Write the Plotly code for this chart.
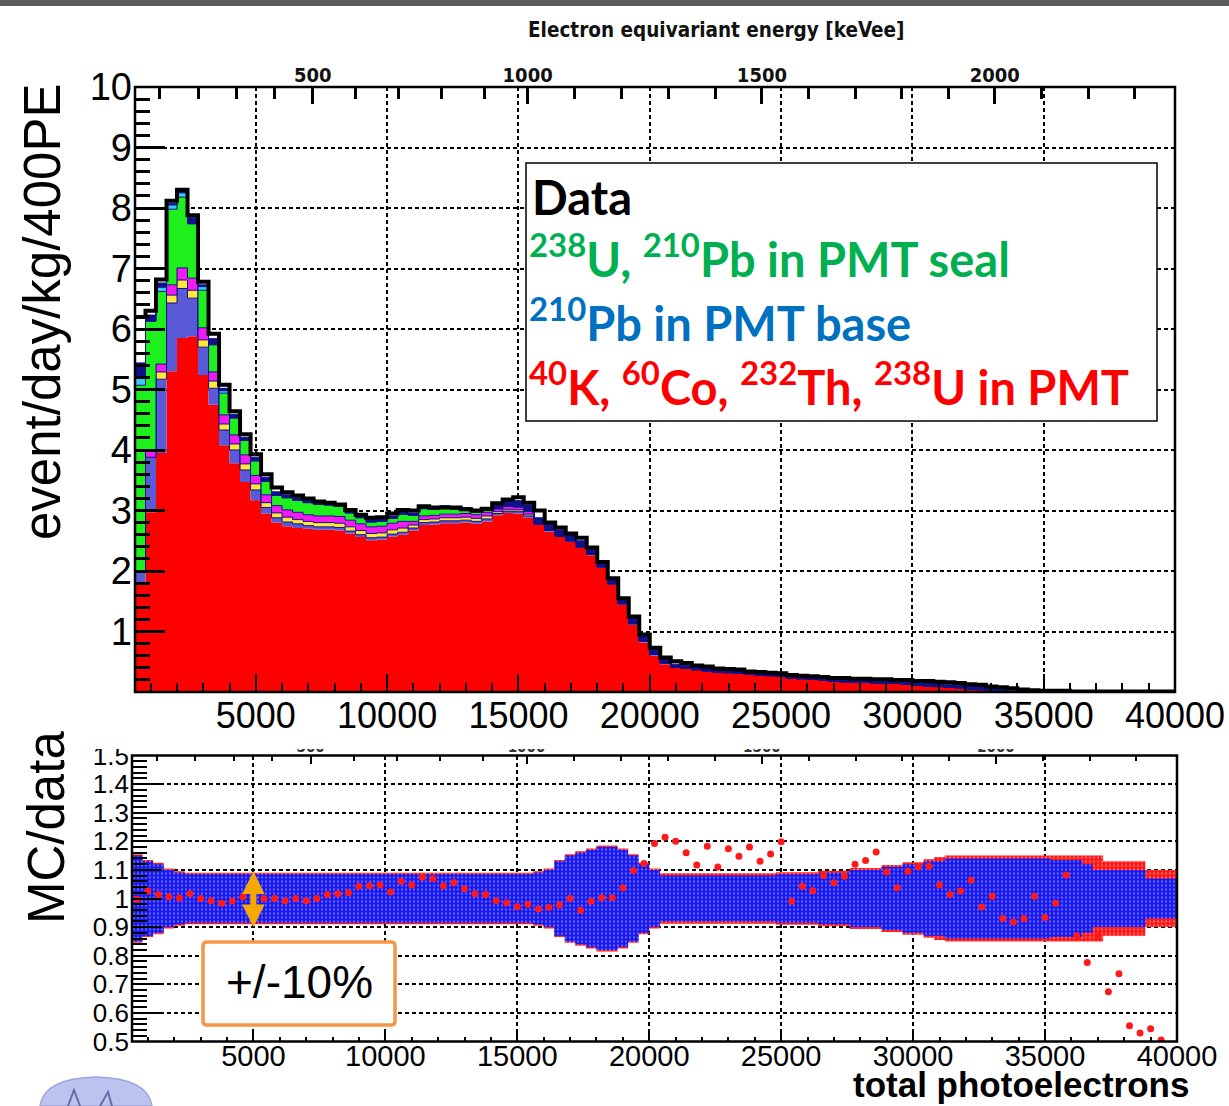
import numpy as np
import plotly.graph_objects as go

W, H = 1229, 1106

# ---------------------------------------------------------------------------
# Spectrum: 400-PE bins between 400 and 40000 photoelectrons
# ---------------------------------------------------------------------------
pe_edges = np.arange(400, 40001, 400)
pe_centers = pe_edges[:-1] + 200

# measured rate [event/day/kg/400PE]
data_rate = [
    6.20, 6.30, 6.82, 8.12, 8.30, 7.88, 6.78, 5.92, 5.08, 4.64,
    4.26, 3.93, 3.60, 3.38, 3.30, 3.25, 3.20, 3.15, 3.13, 3.10,
    3.01, 2.93, 2.88, 2.89, 2.95, 3.01, 3.00, 3.07, 3.05, 3.05,
    3.05, 3.02, 3.00, 3.03, 3.12, 3.18, 3.22, 3.13, 3.00, 2.80,
    2.72, 2.62, 2.55, 2.39, 2.15, 1.88, 1.55, 1.25, 0.95, 0.73,
    0.57, 0.51, 0.48, 0.44, 0.42, 0.39, 0.38, 0.37, 0.34, 0.33,
    0.32, 0.31, 0.28, 0.27, 0.26, 0.25, 0.23, 0.23, 0.22, 0.22,
    0.21, 0.21, 0.20, 0.20, 0.18, 0.18, 0.17, 0.16, 0.15, 0.13,
    0.12, 0.09, 0.08, 0.06, 0.04, 0.03, 0.02, 0.02, 0.02, 0.01,
    0.01, 0.01, 0.01, 0.01, 0.01, 0.01, 0.01, 0.01, 0.01,
]

# simulated components, stacked bottom to top
pmt_rate = [  # 40K, 60Co, 232Th, 238U in PMT
    1.80, 2.97, 3.95, 5.30, 5.85, 5.88, 5.24, 4.75, 4.08, 3.78,
    3.47, 3.17, 2.95, 2.80, 2.74, 2.71, 2.70, 2.68, 2.68, 2.67,
    2.62, 2.56, 2.51, 2.52, 2.57, 2.60, 2.67, 2.76, 2.77, 2.79,
    2.79, 2.80, 2.78, 2.82, 2.92, 2.96, 2.95, 2.88, 2.76, 2.65,
    2.56, 2.48, 2.38, 2.26, 2.05, 1.77, 1.44, 1.11, 0.82, 0.60,
    0.46, 0.41, 0.39, 0.37, 0.35, 0.33, 0.32, 0.31, 0.29, 0.28,
    0.27, 0.26, 0.23, 0.22, 0.21, 0.20, 0.18, 0.17, 0.16, 0.16,
    0.15, 0.15, 0.14, 0.13, 0.11, 0.10, 0.09, 0.08, 0.07, 0.05,
    0.04, 0.02, 0.01, 0.00, 0.00, 0.00, 0.00, 0.00, 0.00, 0.00,
    0.00, 0.00, 0.00, 0.00, 0.00, 0.00, 0.00, 0.00, 0.00,
]
base_pb210_rate = [  # 210Pb in PMT base
    0.20, 0.91, 1.22, 1.13, 0.82, 0.63, 0.46, 0.27, 0.25, 0.22,
    0.20, 0.17, 0.10, 0.08, 0.07, 0.07, 0.05, 0.05, 0.05, 0.05,
    0.04, 0.04, 0.04, 0.04, 0.04, 0.04, 0.04, 0.04, 0.04, 0.04,
    0.04, 0.04, 0.04, 0.04, 0.03, 0.03, 0.03, 0.03, 0.02, 0.02,
    0.02, 0.02, 0.02, 0.02, 0.02, 0.02, 0.02, 0.02, 0.02, 0.02,
    0.02, 0.00, 0.00, 0.00, 0.00, 0.00, 0.00, 0.00, 0.00, 0.00,
    0.00, 0.00, 0.00, 0.00, 0.00, 0.00, 0.00, 0.00, 0.00, 0.00,
    0.00, 0.00, 0.00, 0.00, 0.00, 0.00, 0.00, 0.00, 0.00, 0.00,
    0.00, 0.00, 0.00, 0.00, 0.00, 0.00, 0.00, 0.00, 0.00, 0.00,
    0.00, 0.00, 0.00, 0.00, 0.00, 0.00, 0.00, 0.00, 0.00,
]
vessel_rate = [  # yellow layer
    0.00, 0.00, 0.12, 0.13, 0.14, 0.13, 0.12, 0.12, 0.10, 0.10,
    0.10, 0.10, 0.08, 0.08, 0.08, 0.07, 0.07, 0.07, 0.07, 0.07,
    0.07, 0.07, 0.07, 0.07, 0.07, 0.07, 0.05, 0.05, 0.05, 0.05,
    0.05, 0.05, 0.05, 0.05, 0.03, 0.03, 0.03, 0.03, 0.00, 0.00,
    0.00, 0.00, 0.00, 0.00, 0.00, 0.00, 0.00, 0.00, 0.00, 0.00,
    0.00, 0.00, 0.00, 0.00, 0.00, 0.00, 0.00, 0.00, 0.00, 0.00,
    0.00, 0.00, 0.00, 0.00, 0.00, 0.00, 0.00, 0.00, 0.00, 0.00,
    0.00, 0.00, 0.00, 0.00, 0.00, 0.00, 0.00, 0.00, 0.00, 0.00,
    0.00, 0.00, 0.00, 0.00, 0.00, 0.00, 0.00, 0.00, 0.00, 0.00,
    0.00, 0.00, 0.00, 0.00, 0.00, 0.00, 0.00, 0.00, 0.00,
]
holder_rate = [  # magenta layer
    0.00, 0.10, 0.13, 0.17, 0.20, 0.20, 0.20, 0.15, 0.15, 0.15,
    0.15, 0.14, 0.13, 0.12, 0.12, 0.12, 0.11, 0.11, 0.11, 0.11,
    0.11, 0.11, 0.11, 0.11, 0.11, 0.11, 0.06, 0.06, 0.06, 0.06,
    0.06, 0.06, 0.06, 0.06, 0.05, 0.05, 0.05, 0.05, 0.00, 0.00,
    0.00, 0.00, 0.00, 0.00, 0.00, 0.00, 0.00, 0.00, 0.00, 0.00,
    0.00, 0.00, 0.00, 0.00, 0.00, 0.00, 0.00, 0.00, 0.00, 0.00,
    0.00, 0.00, 0.00, 0.00, 0.00, 0.00, 0.00, 0.00, 0.00, 0.00,
    0.00, 0.00, 0.00, 0.00, 0.00, 0.00, 0.00, 0.00, 0.00, 0.00,
    0.00, 0.00, 0.00, 0.00, 0.00, 0.00, 0.00, 0.00, 0.00, 0.00,
    0.00, 0.00, 0.00, 0.00, 0.00, 0.00, 0.00, 0.00, 0.00,
]
seal_rate = [  # 238U, 210Pb in PMT seal
    3.07, 2.15, 1.20, 1.25, 1.17, 0.90, 0.62, 0.45, 0.36, 0.28,
    0.24, 0.24, 0.22, 0.17, 0.20, 0.20, 0.20, 0.19, 0.18, 0.17,
    0.12, 0.10, 0.08, 0.08, 0.08, 0.12, 0.10, 0.12, 0.10, 0.10,
    0.08, 0.06, 0.04, 0.03, 0.00, 0.00, 0.00, 0.00, 0.00, 0.00,
    0.00, 0.00, 0.00, 0.00, 0.00, 0.00, 0.00, 0.00, 0.00, 0.00,
    0.00, 0.00, 0.00, 0.00, 0.00, 0.00, 0.00, 0.00, 0.00, 0.00,
    0.00, 0.00, 0.00, 0.00, 0.00, 0.00, 0.00, 0.00, 0.00, 0.00,
    0.00, 0.00, 0.00, 0.00, 0.00, 0.00, 0.00, 0.00, 0.00, 0.00,
    0.00, 0.00, 0.00, 0.00, 0.00, 0.00, 0.00, 0.00, 0.00, 0.00,
    0.00, 0.00, 0.00, 0.00, 0.00, 0.00, 0.00, 0.00, 0.00,
]
window_rate = [  # cyan layer
    0.12, 0.00, 0.07, 0.07, 0.07, 0.00, 0.06, 0.00, 0.04, 0.00,
    0.00, 0.00, 0.00, 0.00, 0.00, 0.00, 0.00, 0.00, 0.00, 0.00,
    0.00, 0.00, 0.00, 0.00, 0.00, 0.00, 0.00, 0.00, 0.00, 0.00,
    0.00, 0.00, 0.00, 0.00, 0.00, 0.00, 0.00, 0.00, 0.00, 0.00,
    0.00, 0.00, 0.00, 0.00, 0.00, 0.00, 0.00, 0.00, 0.00, 0.00,
    0.00, 0.00, 0.00, 0.00, 0.00, 0.00, 0.00, 0.00, 0.00, 0.00,
    0.00, 0.00, 0.00, 0.00, 0.00, 0.00, 0.00, 0.00, 0.00, 0.00,
    0.00, 0.00, 0.00, 0.00, 0.00, 0.00, 0.00, 0.00, 0.00, 0.00,
    0.00, 0.00, 0.00, 0.00, 0.00, 0.00, 0.00, 0.00, 0.00, 0.00,
    0.00, 0.00, 0.00, 0.00, 0.00, 0.00, 0.00, 0.00, 0.00,
]
other_rate = [  # navy layer
    0.25, 0.10, 0.07, 0.03, 0.03, 0.10, 0.03, 0.10, 0.04, 0.06,
    0.05, 0.06, 0.07, 0.06, 0.05, 0.05, 0.04, 0.04, 0.04, 0.04,
    0.04, 0.04, 0.04, 0.04, 0.04, 0.04, 0.04, 0.04, 0.04, 0.04,
    0.04, 0.04, 0.04, 0.04, 0.10, 0.10, 0.10, 0.10, 0.10, 0.10,
    0.10, 0.10, 0.10, 0.10, 0.10, 0.10, 0.10, 0.10, 0.10, 0.10,
    0.10, 0.05, 0.05, 0.05, 0.05, 0.05, 0.05, 0.05, 0.05, 0.05,
    0.05, 0.05, 0.05, 0.05, 0.05, 0.05, 0.05, 0.05, 0.05, 0.05,
    0.05, 0.05, 0.05, 0.05, 0.05, 0.05, 0.05, 0.05, 0.05, 0.05,
    0.05, 0.05, 0.05, 0.02, 0.02, 0.02, 0.02, 0.02, 0.02, 0.01,
    0.01, 0.01, 0.01, 0.01, 0.01, 0.01, 0.01, 0.01, 0.01,
]

# MC / data ratio per bin and error-band half widths
mc_data_ratio = [
    0.997, 1.026, 1.014, 1.006, 1.002, 1.017, 1.000, 0.992, 0.983, 0.991,
    1.006, 0.998, 1.000, 1.000, 0.992, 1.000, 0.992, 1.000, 1.014, 1.017,
    1.020, 1.043, 1.045, 1.047, 1.023, 1.060, 1.047, 1.074, 1.069, 1.045,
    1.056, 1.034, 1.017, 1.014, 0.992, 0.985, 0.971, 0.980, 0.963, 0.969,
    0.977, 1.000, 0.959, 0.990, 1.003, 1.003, 1.038, 1.098, 1.122, 1.192,
    1.214, 1.200, 1.160, 1.117, 1.183, 1.110, 1.174, 1.148, 1.180, 1.130,
    1.156, 1.198, 0.990, 1.043, 1.027, 1.080, 1.055, 1.078, 1.120, 1.133,
    1.163, 1.093, 1.038, 1.095, 1.110, 1.113, 1.047, 1.014, 1.026, 1.064,
    0.970, 1.008, 0.930, 0.918, 0.930, 1.008, 0.934, 0.983, 1.082, 0.870,
    0.776, 0.870, 0.674, 0.737, 0.555, 0.530, 0.545, 0.505, None,
]
mc_err_blue = [
    0.150, 0.130, 0.120, 0.100, 0.090, 0.085, 0.085, 0.085, 0.085, 0.085,
    0.085, 0.085, 0.085, 0.085, 0.085, 0.085, 0.085, 0.085, 0.085, 0.085,
    0.085, 0.085, 0.085, 0.085, 0.085, 0.085, 0.085, 0.085, 0.085, 0.085,
    0.085, 0.085, 0.085, 0.085, 0.085, 0.085, 0.085, 0.085, 0.090, 0.100,
    0.130, 0.150, 0.160, 0.170, 0.180, 0.180, 0.170, 0.150, 0.120, 0.100,
    0.080, 0.080, 0.080, 0.080, 0.080, 0.080, 0.080, 0.080, 0.080, 0.080,
    0.080, 0.085, 0.085, 0.085, 0.085, 0.090, 0.090, 0.090, 0.100, 0.100,
    0.100, 0.110, 0.110, 0.120, 0.120, 0.130, 0.130, 0.140, 0.140, 0.140,
    0.140, 0.140, 0.140, 0.140, 0.140, 0.140, 0.140, 0.135, 0.135, 0.135,
    0.120, 0.100, 0.100, 0.100, 0.100, 0.100, 0.070, 0.070, 0.070,
]
mc_err_red = [
    0.155, 0.135, 0.125, 0.105, 0.095, 0.090, 0.090, 0.090, 0.090, 0.090,
    0.090, 0.090, 0.090, 0.090, 0.090, 0.090, 0.090, 0.090, 0.090, 0.090,
    0.090, 0.090, 0.090, 0.090, 0.090, 0.090, 0.090, 0.090, 0.090, 0.090,
    0.090, 0.090, 0.090, 0.090, 0.090, 0.090, 0.090, 0.090, 0.095, 0.105,
    0.135, 0.155, 0.165, 0.175, 0.185, 0.185, 0.175, 0.155, 0.125, 0.105,
    0.088, 0.088, 0.088, 0.088, 0.088, 0.088, 0.088, 0.088, 0.088, 0.088,
    0.088, 0.092, 0.092, 0.092, 0.092, 0.097, 0.097, 0.097, 0.107, 0.107,
    0.107, 0.117, 0.117, 0.127, 0.127, 0.137, 0.145, 0.150, 0.150, 0.150,
    0.150, 0.150, 0.150, 0.150, 0.150, 0.150, 0.150, 0.150, 0.150, 0.150,
    0.150, 0.150, 0.130, 0.130, 0.130, 0.130, 0.100, 0.100, 0.100,
]

# Axis tick labels
pe_ticks = [5000, 10000, 15000, 20000, 25000, 30000, 35000, 40000]
rate_ticks = [1, 2, 3, 4, 5, 6, 7, 8, 9, 10]
ratio_ticks = [0.5, 0.6, 0.7, 0.8, 0.9, 1.0, 1.1, 1.2, 1.3, 1.4, 1.5]
ratio_labels = ["0.5", "0.6", "0.7", "0.8", "0.9", "1", "1.1", "1.2", "1.3", "1.4", "1.5"]

# Energy calibration (keVee -> total photoelectrons) for the upper axis
cal_kev = [100, 500, 1000, 1500, 2000]
cal_pe = [1350, 7170, 15350, 24270, 33140]
energy_labels = [500, 1000, 1500, 2000]


def kev_to_pe(e):
    e = np.asarray(e, dtype=float)
    pe = np.interp(e, cal_kev, cal_pe)
    hi_slope = (cal_pe[-1] - cal_pe[-2]) / (cal_kev[-1] - cal_kev[-2])
    return np.where(e > cal_kev[-1], cal_pe[-1] + (e - cal_kev[-1]) * hi_slope, pe)


energy_major_pe = [float(v) for v in kev_to_pe(energy_labels)]
minor_kev = np.arange(100, 2400, 100)
energy_minor_pe = [float(p) for k, p in zip(minor_kev, kev_to_pe(minor_kev))
                   if k % 500 and 400 < p < 40000]


def step(vals):
    v = [np.nan if x is None else x for x in vals]
    return list(v) + [v[-1]]


def px(x):
    return x / W


def py(y):
    return 1 - y / H


FONT = "Liberation Sans, Arial, sans-serif"
NARROW = "Liberation Sans Narrow, Arial Narrow, DejaVu Sans Condensed, sans-serif"
LEG_FONT = "Lato, Open Sans, sans-serif"

fig = go.Figure()

# ---------------- upper panel: stacked MC + data ----------------
layers = [
    (pmt_rate, "#ff0000"),
    (base_pb210_rate, "#5a5ad6"),
    (vessel_rate, "#ffe838"),
    (holder_rate, "#f21cf0"),
    (seal_rate, "#1ef01e"),
    (window_rate, "#3cc8f4"),
    (other_rate, "#10108c"),
]
cum = np.zeros(len(pmt_rate))
for i, (vals, col) in enumerate(layers):
    cum = cum + np.asarray(vals)
    fig.add_trace(go.Scatter(
        x=pe_edges, y=step(list(cum)), mode="lines",
        line=dict(shape="hv", width=0 if i == 0 else 1, color="#10108c"),
        fill="tozeroy" if i == 0 else "tonexty", fillcolor=col,
        xaxis="x", yaxis="y", hoverinfo="skip", showlegend=False))

fig.add_trace(go.Scatter(
    x=pe_edges, y=step(data_rate), mode="lines",
    line=dict(shape="hv", width=4, color="black"),
    xaxis="x", yaxis="y", hoverinfo="skip", showlegend=False))

# helper traces so the energy axes are drawn
fig.add_trace(go.Scatter(x=[20000], y=[5], mode="markers", marker=dict(opacity=0),
                         xaxis="x3", yaxis="y", hoverinfo="skip", showlegend=False))
fig.add_trace(go.Scatter(x=[20000], y=[1], mode="markers", marker=dict(opacity=0),
                         xaxis="x4", yaxis="y2", hoverinfo="skip", showlegend=False))

# ---------------- lower panel: MC/data ratio ----------------
red_hw = np.asarray(mc_err_red)
blue_hw = np.asarray(mc_err_blue)
for hw, bg, fg in [(red_hw, "#ff1414", "#ffb0b0"), (blue_hw, "#1414f0", "#b4b4ff")]:
    fig.add_trace(go.Scatter(
        x=pe_edges, y=step(list(1 - hw)), mode="lines",
        line=dict(shape="hv", width=0), xaxis="x2", yaxis="y2",
        hoverinfo="skip", showlegend=False))
    fig.add_trace(go.Scatter(
        x=pe_edges, y=step(list(1 + hw)), mode="lines",
        line=dict(shape="hv", width=0), fill="tonexty", fillcolor=bg,
        fillpattern=dict(shape=".", bgcolor=bg, fgcolor=fg, size=4, solidity=0.3),
        xaxis="x2", yaxis="y2", hoverinfo="skip", showlegend=False))

fig.add_trace(go.Scatter(
    x=pe_centers, y=mc_data_ratio, mode="markers",
    marker=dict(size=7, color="#ff1a1a"),
    xaxis="x2", yaxis="y2", hoverinfo="skip", showlegend=False))

# ---------------- axes ----------------
common = dict(showline=False, zeroline=False, automargin=False)
grid = dict(showgrid=True, gridcolor="black", gridwidth=1.5, griddash="4px,3px")
top_dom_x = [px(135), px(1175)]
top_dom_y = [py(692), py(87)]
low_dom_x = [px(132), px(1177)]
low_dom_y = [py(1041.5), py(755.5)]

fig.update_layout(
    width=W, height=H, margin=dict(l=0, r=0, t=0, b=0, pad=0, autoexpand=False),
    autosize=False, paper_bgcolor="white", plot_bgcolor="white",
    showlegend=False, hovermode=False,
    xaxis=dict(domain=top_dom_x, anchor="y", range=[400, 40000],
               tickmode="array", tickvals=pe_ticks, ticktext=[str(v) for v in pe_ticks],
               ticks="inside", ticklen=18, tickwidth=2, tickcolor="black",
               minor=dict(dtick=1000, tick0=0, ticks="inside", ticklen=9, tickwidth=2,
                          tickcolor="black", showgrid=False),
               tickfont=dict(family=FONT, size=36, color="black"),
               ticklabelstandoff=-1, **common, **grid),
    yaxis=dict(domain=top_dom_y, anchor="x", range=[0, 10],
               tickmode="array", tickvals=rate_ticks, ticktext=[str(v) for v in rate_ticks],
               ticks="inside", ticklen=30, tickwidth=3, tickcolor="black",
               minor=dict(dtick=0.2, tick0=0, ticks="inside", ticklen=15, tickwidth=3,
                          tickcolor="black", showgrid=False),
               tickfont=dict(family=FONT, size=38, color="black"),
               ticklabelstandoff=2, **common, **grid),
    xaxis3=dict(overlaying="x", side="top", anchor="y", range=[400, 40000],
                tickmode="array", tickvals=energy_major_pe,
                ticktext=[str(v) for v in energy_labels],
                ticks="inside", ticklen=17, tickwidth=3, tickcolor="black",
                minor=dict(tickmode="array", tickvals=energy_minor_pe, ticks="inside",
                           ticklen=12, tickwidth=3, tickcolor="black", showgrid=False),
                tickfont=dict(family=NARROW, size=20, color="#111", weight="bold"),
                showgrid=False, **common),
    xaxis2=dict(domain=low_dom_x, anchor="y2", range=[400, 40000],
                tickmode="array", tickvals=pe_ticks, ticktext=[str(v) for v in pe_ticks],
                ticks="inside", ticklen=10, tickwidth=2, tickcolor="black",
                minor=dict(dtick=1000, tick0=0, ticks="inside", ticklen=5, tickwidth=2,
                           tickcolor="black", showgrid=False),
                tickfont=dict(family=FONT, size=29, color="black"),
                ticklabelstandoff=-6, **common, **grid),
    yaxis2=dict(domain=low_dom_y, anchor="x2", range=[0.5, 1.5],
                tickmode="array", tickvals=ratio_ticks, ticktext=ratio_labels,
                ticks="inside", ticklen=30, tickwidth=2, tickcolor="black",
                minor=dict(dtick=0.02, tick0=0.5, ticks="inside", ticklen=15, tickwidth=2,
                           tickcolor="black", showgrid=False),
                tickfont=dict(family=FONT, size=26, color="black"),
                ticklabelstandoff=2, **common, **grid),
    xaxis4=dict(overlaying="x2", side="top", anchor="y2", range=[400, 40000],
                tickmode="array", tickvals=energy_major_pe,
                ticktext=[str(v) for v in energy_labels],
                ticks="inside", ticklen=8, tickwidth=2, tickcolor="black",
                minor=dict(tickmode="array", tickvals=energy_minor_pe, ticks="inside",
                           ticklen=5, tickwidth=2, tickcolor="black", showgrid=False),
                tickfont=dict(family=NARROW, size=15, color="#333", weight="bold"),
                showgrid=False, **common),
)


def rounded_rect(x0, y0, x1, y1, r):
    def p(x, y):
        return f"{px(x):.5f},{py(y):.5f}"
    return (f"M {p(x0 + r, y0)} L {p(x1 - r, y0)} Q {p(x1, y0)} {p(x1, y0 + r)} "
            f"L {p(x1, y1 - r)} Q {p(x1, y1)} {p(x1 - r, y1)} L {p(x0 + r, y1)} "
            f"Q {p(x0, y1)} {p(x0, y1 - r)} L {p(x0, y0 + r)} Q {p(x0, y0)} {p(x0 + r, y0)} Z")


shapes = [
    # frames
    dict(type="rect", xref="x domain", yref="y domain", x0=0, x1=1, y0=0, y1=1,
         line=dict(color="black", width=2.5), layer="above"),
    dict(type="rect", xref="x2 domain", yref="y2 domain", x0=0, x1=1, y0=0, y1=1,
         line=dict(color="black", width=2.5), layer="above"),
    # strip hiding the top of the lower-panel labels
    dict(type="rect", xref="paper", yref="paper", x0=px(60), x1=1, y0=py(749), y1=py(737),
         fillcolor="white", line=dict(width=0), layer="above"),
    # legend box
    dict(type="rect", xref="paper", yref="paper", x0=px(526), x1=px(1157),
         y0=py(421), y1=py(163), fillcolor="white",
         line=dict(color="black", width=1.5), layer="above"),
    # +/-10% box
    dict(type="path", xref="paper", yref="paper", path=rounded_rect(203, 942, 395, 1025, 4),
         fillcolor="white", line=dict(color="#f79646", width=3.5), layer="above"),
    # title bar at the very top
    dict(type="rect", xref="paper", yref="paper", x0=0, x1=1, y0=py(6), y1=1,
         fillcolor="#5c5c5c", line=dict(width=0), layer="above"),
    # logo (lower edge of the page cuts it)
    dict(type="path", xref="paper", yref="paper",
         path=(f"M {px(40):.5f},{py(1106):.5f} "
               f"Q {px(44):.5f},{py(1078):.5f} {px(96):.5f},{py(1077):.5f} "
               f"Q {px(148):.5f},{py(1078):.5f} {px(152):.5f},{py(1106):.5f} Z"),
         fillcolor="#bcc3ee", line=dict(color="#9ea6dc", width=1.5), layer="above"),
    dict(type="path", xref="paper", yref="paper",
         path=f"M {px(68):.5f},{py(1106):.5f} L {px(74):.5f},{py(1090):.5f} "
              f"L {px(80):.5f},{py(1106):.5f}",
         line=dict(color="#6a6aaa", width=2), layer="above"),
    dict(type="path", xref="paper", yref="paper",
         path=f"M {px(100):.5f},{py(1106):.5f} L {px(108):.5f},{py(1092):.5f} "
              f"L {px(112):.5f},{py(1106):.5f}",
         line=dict(color="#6a6aaa", width=2), layer="above"),
]

annotations = [
    dict(text="Electron equivariant energy [keVee]", x=px(716), y=py(30),
         font=dict(family=NARROW, size=20.5, color="#111", weight="bold")),
    dict(text="event/day/kg/400PE", x=px(42), y=py(312), textangle=-90,
         font=dict(family=FONT, size=51, color="black")),
    dict(text="MC/data", x=px(46), y=py(828), textangle=-90,
         font=dict(family=FONT, size=51, color="black")),
    dict(text="total photoelectrons", x=px(1021), y=py(1105), yanchor="bottom",
         borderpad=0, font=dict(family=FONT, size=35, color="black", weight="bold")),
    dict(text="+/-10%", x=px(299), y=py(982),
         font=dict(family=FONT, size=46, color="black")),
    dict(text="Data", x=px(530), y=py(197), xanchor="left",
         font=dict(family=LEG_FONT, size=47, color="black", weight="bold")),
    dict(text="<sup>238</sup>U, <sup>210</sup>Pb in PMT seal", x=px(527), y=py(256),
         xanchor="left", font=dict(family=LEG_FONT, size=47, color="#00b050", weight="bold")),
    dict(text="<sup>210</sup>Pb in PMT base", x=px(527), y=py(320),
         xanchor="left", font=dict(family=LEG_FONT, size=47, color="#0070c0", weight="bold")),
    dict(text="<sup>40</sup>K, <sup>60</sup>Co, <sup>232</sup>Th, <sup>238</sup>U in PMT",
         x=px(527), y=py(384), xanchor="left",
         font=dict(family=LEG_FONT, size=47, color="#ff0000", weight="bold")),
]
for a in annotations:
    a.setdefault("xref", "paper")
    a.setdefault("yref", "paper")
    a.setdefault("showarrow", False)
    a.setdefault("yanchor", "middle")
    a.setdefault("xanchor", "center")

# +/-10% double arrow at 5000 PE
annotations.append(dict(
    x=5000, y=0.9, ax=5000, ay=1.1, xref="x2", yref="y2", axref="x2", ayref="y2",
    text="", showarrow=True, arrowhead=2, arrowside="end+start", arrowsize=0.75,
    arrowwidth=6, arrowcolor="#f5a800"))

fig.update_layout(shapes=shapes, annotations=annotations)

# page without body margin or scrollbars
page_css = ("document.body.style.margin='0';document.body.style.padding='0';"
            "document.documentElement.style.overflow='hidden';"
            "document.body.style.overflow='hidden';")
fig.write_html("out.html", include_plotlyjs=True, post_script=page_css)
